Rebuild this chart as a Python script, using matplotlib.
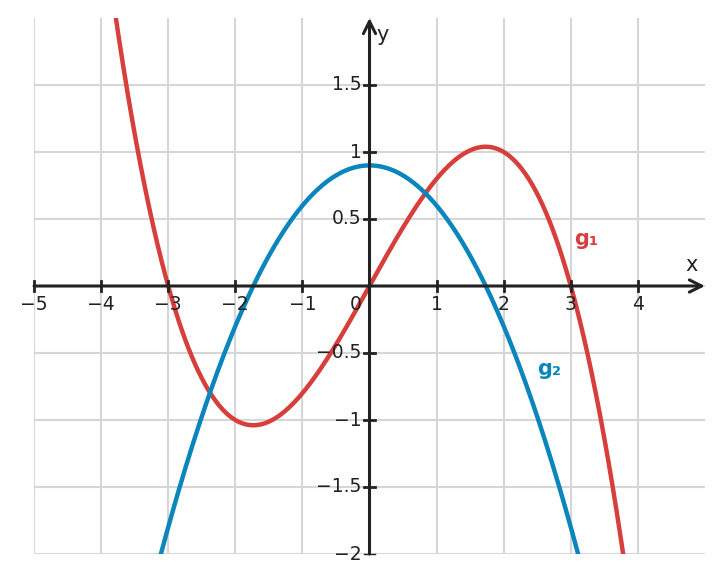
import numpy as np
import matplotlib.pyplot as plt

# polynomial coefficients (highest power first)
g1_coef = [-0.1, 0.0, 0.9, 0.0]
g2_coef = [-0.3, 0.0, 0.9]
x_ticks = [-5, -4, -3, -2, -1, 1, 2, 3, 4]
y_ticks = [-2, -1.5, -1, -0.5, 0.5, 1, 1.5]
y_labels = ["\u22122", "\u22121.5", "\u22121", "\u22120.5", "0.5", "1", "1.5"]

red = "#d63f3b"
blue = "#0a86bd"
axc = "#222222"

fig = plt.figure(figsize=(7.24, 5.84), dpi=100)
ax = fig.add_axes([34 / 724, 30 / 584, 671 / 724, 536 / 584])
ax.set_xlim(-5, 5)
ax.set_ylim(-2, 2)

for s in ax.spines.values():
    s.set_visible(False)
ax.set_xticks([])
ax.set_yticks([])

for xv in range(-5, 5):
    ax.axvline(xv, color="#d6d6d6", lw=1.5, zorder=0)
for yv in np.arange(-2, 2, 0.5):
    ax.axhline(yv, color="#d6d6d6", lw=1.5, zorder=0)

xs = np.linspace(-5, 5, 800)
ax.plot(xs, np.polyval(g1_coef, xs), color=red, lw=3.2, zorder=3)
ax.plot(xs, np.polyval(g2_coef, xs), color=blue, lw=3.2, zorder=3)

# axes with arrows
ax.annotate("", xy=(5, 0), xytext=(-5, 0),
            arrowprops=dict(arrowstyle="->", color=axc, lw=2.2,
                            mutation_scale=22, shrinkA=0, shrinkB=0), zorder=4)
ax.annotate("", xy=(0, 2), xytext=(0, -2),
            arrowprops=dict(arrowstyle="->", color=axc, lw=2.2,
                            mutation_scale=22, shrinkA=0, shrinkB=0), zorder=4)

fs = 13.5
for xv in x_ticks:
    ax.plot([xv, xv], [-0.04, 0.04], color=axc, lw=2, zorder=4, clip_on=False)
    lab = str(xv).replace("-", "\u2212")
    ax.text(xv, -0.065, lab, ha="center", va="top", fontsize=fs, color=axc)
ax.text(-0.12, -0.065, "0", ha="right", va="top", fontsize=fs, color=axc)
for yv, lab in zip(y_ticks, y_labels):
    ax.plot([-0.08, 0.08], [yv, yv], color=axc, lw=2 if yv > -2 else 1, zorder=4, clip_on=False)
    ax.text(-0.12, yv, lab, ha="right", va="center", fontsize=fs, color=axc)

ax.text(4.8, 0.08, "x", ha="center", va="bottom", fontsize=15, color=axc)
ax.text(0.1, 1.87, "y", ha="left", va="center", fontsize=15, color=axc)

ax.text(3.05, 0.35, "g\u2081", color=red, fontsize=15, fontweight="bold", ha="left", va="center")
ax.text(2.5, -0.62, "g\u2082", color=blue, fontsize=15, fontweight="bold", ha="left", va="center")

fig.savefig("out.png", dpi=100)
